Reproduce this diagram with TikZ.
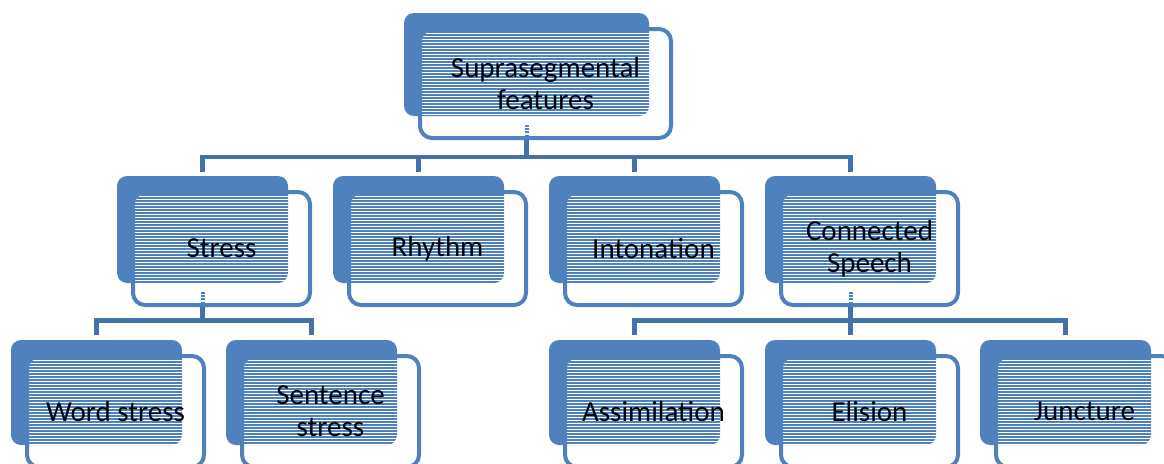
\documentclass[tikz,border=0pt]{standalone}
\usepackage{fontspec}
\setmainfont{Carlito}
\definecolor{boxblue}{HTML}{4F81BD}
\definecolor{linkblue}{HTML}{4372AA}
\tikzset{
  backbox/.style={rectangle, fill=boxblue, inner sep=0pt, outer sep=0pt, rounded corners=10pt},
  frontbox/.style={rectangle, draw=boxblue, fill=white, line width=4pt, inner sep=0pt, rounded corners=12pt},
  stripe/.style={draw=boxblue, line width=2.2pt},
  label/.style={align=center, text=black, font=\fontsize{29}{32}\selectfont, inner sep=0pt},
  conn/.style={draw=linkblue, line width=4.5pt},
  ticks/.style={draw=boxblue, line width=4pt, dash pattern=on 1.6pt off 1.6pt}
}
% one element: back card, striped overlap, outlined front card, caption
% #1 name, #2 left, #3 top, #4 width, #5 height, #6 caption
\newcommand\elem[6]{%
  \node[backbox, minimum width=#4pt, minimum height=#5pt] (#1b) at (#2+#4/2, #3+#5/2) {};
  \node[frontbox, minimum width=#4pt+6pt, minimum height=#5pt+6pt] (#1f) at (#2+#4/2+19, #3+#5/2+19) {};
  \begin{scope}
    \clip[rounded corners=10pt] (#2,#3) rectangle ++(#4,#5);
    \clip[rounded corners=9pt] (#2+18,#3+18) rectangle (#2+#4+20,#3+#5+20);
    \foreach \k in {0,...,40} \draw[stripe] (#2, #3+19+3*\k) -- ++(#4+30,0);
  \end{scope}
  \node[label] (#1t) at (#1f.center) {#6};
}
\begin{document}
\begin{tikzpicture}[x=1pt, y=-1pt]
  \path[use as bounding box] (0,0) rectangle (1164,463);
  \clip (0,0) rectangle (1164,463);

  % cards
  \elem{top}{404}{13}{245}{103}{Suprasegmental\\features}
  \elem{stress}{117}{176}{171}{107}{Stress}
  \elem{rhythm}{333}{176}{171}{107}{Rhythm}
  \elem{inton}{549}{176}{171}{107}{Intonation}
  \elem{conn}{765}{176}{171}{107}{Connected\\Speech}
  \elem{word}{11}{340}{171}{105}{Word stress}
  \elem{sent}{226}{340}{171}{105}{Sentence\\stress}
  \elem{assim}{549}{340}{171}{105}{Assimilation}
  \elem{elis}{765}{340}{171}{105}{Elision}
  \elem{junct}{980}{340}{171}{105}{Juncture}

  % tree connectors
  \coordinate (bar1) at (0,157);
  \coordinate (bar2) at (0,320.5);
  \foreach \p in {top, stress, conn}
    \draw[ticks] (\p b.south) ++(0,9) -- (\p b.south |- \p f.south);
  \draw[conn] (topb.south |- topf.south) -- (topb.south |- bar1);
  \foreach \c in {stress, rhythm, inton, conn}
    \draw[conn] (\c b.north) ++(0,-4) |- (topb.south |- bar1);
  \draw[conn] (stressb.south |- stressf.south) -- (stressb.south |- bar2);
  \foreach \c in {word, sent}
    \draw[conn] (\c b.north) ++(0,-5) |- (stressb.south |- bar2);
  \draw[conn] (connb.south |- connf.south) -- (connb.south |- bar2);
  \foreach \c in {assim, elis, junct}
    \draw[conn] (\c b.north) ++(0,-5) |- (connb.south |- bar2);
\end{tikzpicture}
\end{document}
